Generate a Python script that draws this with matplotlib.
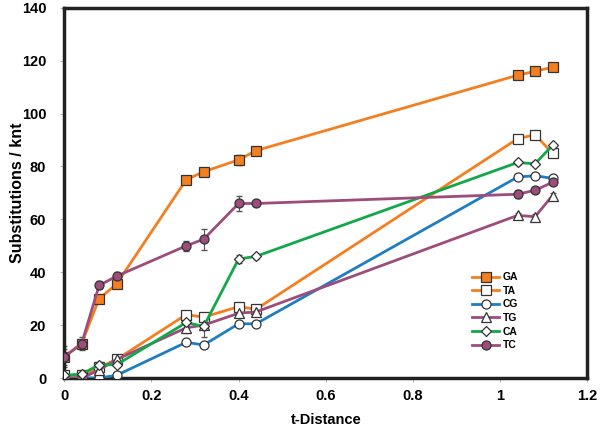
import matplotlib
matplotlib.use("Agg")
import matplotlib.pyplot as plt

plt.rcParams['font.family'] = ['Liberation Sans', 'DejaVu Sans']
plt.rcParams['font.weight'] = 'bold'

x = [0, 0.04, 0.08, 0.12, 0.28, 0.32, 0.40, 0.44, 1.04, 1.08, 1.12]

ga = [8, 13, 30, 35.5, 75, 78, 82.5, 86, 114.5, 116, 117.5]
ta = [1, 1, 4, 7, 24, 23, 27, 26, 90.5, 92, 85]
cg = [0, 0, 0, 1, 13.5, 12.5, 20.5, 20.5, 76, 76.5, 75.5]
tg = [0, 0, 3, 7, 19, 20, 24.5, 25, 61.5, 61, 69]
ca = [1, 1.5, 5, 5, 21, 19.5, 45, 46, 81.5, 81, 88]
tc = [8, 13, 35, 38.5, 50, 52.5, 66, 66, 69.5, 71, 74]

# rough error bar sizes read from the caps
ga_err = [3, 1.5, 1, 1, 1, 1, 2, 1, 1, 1, 1.5]
tc_err = [4, 2.5, 1.5, 1.5, 2, 4, 3, 1, 1.5, 1, 1]
ca_err = [1, 1, 1, 1, 1, 4, 1.5, 1, 1, 1, 1]
tg_err = [1, 1, 1, 1, 2, 1, 1, 1, 1, 1, 1]

orange = '#f47f20'
blue = '#1f7dc1'
purple = '#9c4d7b'
green = '#12a84a'

series = [
    ('GA', ga, ga_err, orange, 's', orange),
    ('TA', ta, None, orange, 's', 'white'),
    ('CG', cg, None, blue, 'o', 'white'),
    ('TG', tg, tg_err, purple, '^', 'white'),
    ('CA', ca, ca_err, green, 'D', 'white'),
    ('TC', tc, tc_err, purple, 'o', purple),
]

fig = plt.figure(figsize=(6, 4.33), dpi=100)
ax = fig.add_axes([0.107, 0.127, 0.872, 0.855])

for name, vals, err, col, mk, face in series:
    if err is not None:
        ax.errorbar(x, vals, yerr=err, fmt='none', ecolor='#555555',
                    elinewidth=0.8, capsize=2.5, zorder=2)
    ms = 5 if mk == 'D' else 6.5
    ax.plot(x, vals, color=col, lw=2, marker=mk, ms=ms, mfc=face,
            mec='#333333', mew=0.9, label=name, zorder=3)

ax.set_xlim(0, 1.2)
ax.set_ylim(0, 140)
ax.set_xticks([0, 0.2, 0.4, 0.6, 0.8, 1, 1.2])
ax.set_xticklabels(['0', '0.2', '0.4', '0.6', '0.8', '1', '1.2'])
ax.set_yticks(range(0, 141, 20))
ax.tick_params(axis='both', labelsize=10.5, width=0.6, length=3, color='#aaaaaa')
ax.tick_params(axis='y', pad=10)
ax.tick_params(axis='x', pad=5)
for s in ax.spines.values():
    s.set_linewidth(2.5)
    s.set_color('#222222')

ax.set_xlabel('t-Distance', fontsize=10.5, fontweight='bold')
ax.set_ylabel('Substitutions / knt', fontsize=11.5, fontweight='bold')
ax.yaxis.set_label_coords(-0.075, 0.5)
ax.xaxis.set_label_coords(0.5, -0.095)

ax.legend(loc='upper left', bbox_to_anchor=(0.77, 0.30), frameon=False,
          fontsize=7.5, handlelength=2.6, labelspacing=0.35, handletextpad=0.3,
          borderpad=0)

fig.savefig('out.png', dpi=100)
